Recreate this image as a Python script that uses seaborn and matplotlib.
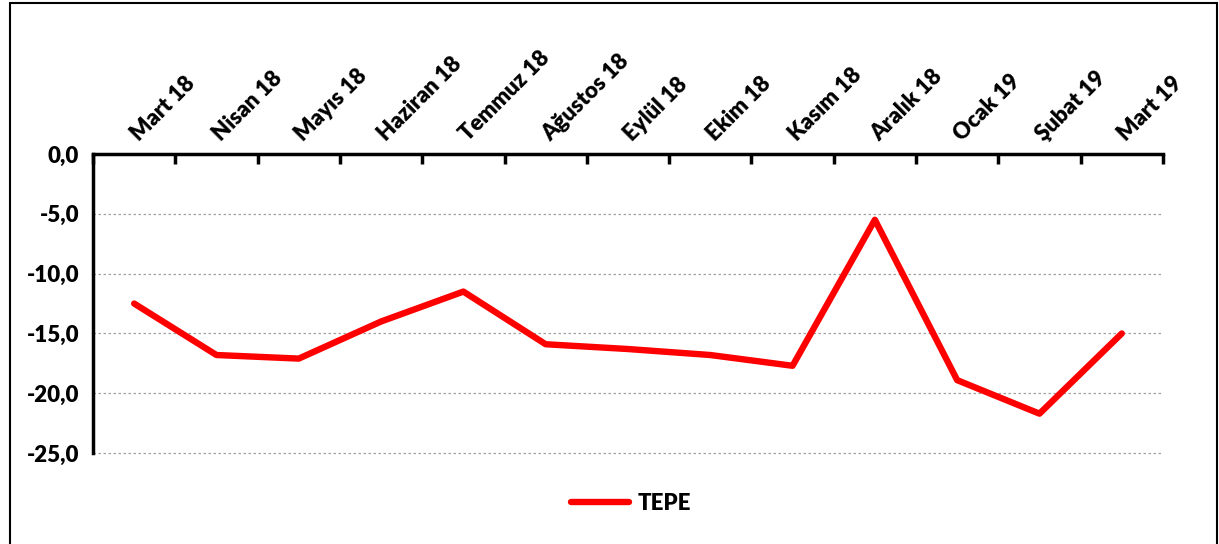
import numpy as np
import matplotlib
matplotlib.use("Agg")
import matplotlib.pyplot as plt
from matplotlib.patches import Rectangle
import seaborn as sns
import pandas as pd

months = ['Mart 18', 'Nisan 18', 'Mayıs 18', 'Haziran 18', 'Temmuz 18', 'Ağustos 18',
          'Eylül 18', 'Ekim 18', 'Kasım 18', 'Aralık 18', 'Ocak 19', 'Şubat 19', 'Mart 19']
tepe = [-12.5, -16.8, -17.1, -14.0, -11.5, -15.9, -16.3, -16.8, -17.7, -5.5, -18.9, -21.7, -15.0]
y_ticks = [0, -5, -10, -15, -20, -25]

sns.set_style('white')
plt.rcParams['font.family'] = ['Lato', 'DejaVu Sans']
plt.rcParams['font.weight'] = 'heavy'
plt.rcParams['text.color'] = 'black'
plt.rcParams['xtick.color'] = 'black'
plt.rcParams['ytick.color'] = 'black'

df = pd.DataFrame({'pos': np.arange(len(months)), 'value': tepe, 'seri': 'TEPE'})

fig = plt.figure(figsize=(12.19, 5.44), dpi=100)
ax = fig.add_axes([0.0763, 0.167, 0.954 - 0.0763, 0.717 - 0.167])

sns.lineplot(data=df, x='pos', y='value', hue='seri', palette=['#ff0000'],
             linewidth=4.6, ax=ax, solid_capstyle='round', solid_joinstyle='round')

ax.set_xlim(-0.5, len(months) - 0.5)
ax.set_ylim(-25, 0)
ax.set_yticks(y_ticks)
ax.set_yticklabels([f'{v:.1f}'.replace('.', ',') for v in y_ticks], fontsize=16, fontweight='heavy')
ax.yaxis.grid(True, color='#a0a0a0', linestyle=(0, (2, 2)), linewidth=0.9)
for gl in ax.get_ygridlines():
    gl.set_clip_on(False)
ax.set_axisbelow(True)

ax.xaxis.tick_top()
ax.set_xticks(np.arange(len(months)))
ax.set_xticklabels(months, rotation=45, ha='left', va='center', rotation_mode='anchor',
                   fontsize=16, fontweight='heavy')
ax.tick_params(axis='x', which='major', length=0, pad=12)
ax.set_xticks(np.arange(len(months) + 1) - 0.5, minor=True)
ax.tick_params(axis='x', which='minor', direction='in', length=7, width=2.5, top=True, bottom=False)
ax.tick_params(axis='y', direction='out', length=7, width=2.5, pad=3)
ax.set_xlabel('')
ax.set_ylabel('')

for side in ['right', 'bottom']:
    ax.spines[side].set_visible(False)
for side in ['left', 'top']:
    ax.spines[side].set_color('black')
    ax.spines[side].set_linewidth(2.5)

leg = ax.legend(loc='center', bbox_to_anchor=(0.518, 0.075), bbox_transform=fig.transFigure,
                frameon=False, fontsize=16, handlelength=2.6, handletextpad=0.4)
for t in leg.get_texts():
    t.set_fontweight('heavy')
    t.set_color('black')

fig.patches.append(Rectangle((0.0082, -0.05), 0.9902, 0.9945 + 0.05, transform=fig.transFigure,
                             fill=False, edgecolor='black', linewidth=1.5))

fig.savefig('out.png', dpi=100)
